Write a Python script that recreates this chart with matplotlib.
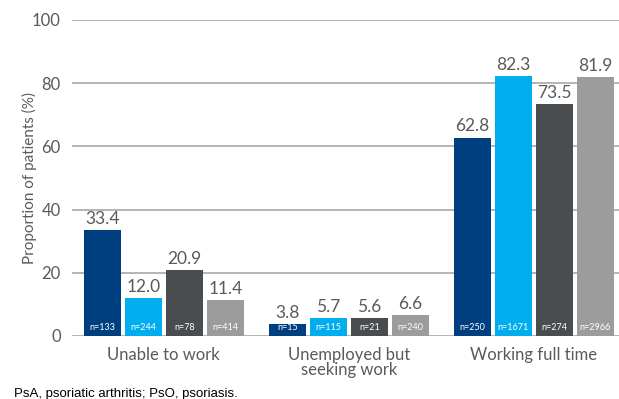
import numpy as np
import matplotlib.pyplot as plt

categories = ["Unable to work", "Unemployed but\nseeking work", "Working full time"]
values = [
    [33.4, 3.8, 62.8],
    [12.0, 5.7, 82.3],
    [20.9, 5.6, 73.5],
    [11.4, 6.6, 81.9],
]
counts = [
    ["n=133", "n=15", "n=250"],
    ["n=244", "n=115", "n=1671"],
    ["n=78", "n=21", "n=274"],
    ["n=414", "n=240", "n=2966"],
]
colors = ["#003f7f", "#00aeef", "#4a4d4f", "#9c9c9c"]
yticks = [0, 20, 40, 60, 80, 100]

plt.rcParams["font.family"] = ["Lato", "DejaVu Sans"]
txt = "#5a5a5a"

fig = plt.figure(figsize=(6.19, 3.99), dpi=100)
ax = fig.add_axes([0.116, 0.158, 0.884, 0.792])

x = np.arange(len(categories))
pitch, width = 0.2216, 0.2
for i, (vals, ns, c) in enumerate(zip(values, counts, colors)):
    xs = x + (i - 1.5) * pitch
    ax.bar(xs, vals, width, color=c, zorder=2)
    for xi, v, n in zip(xs, vals, ns):
        ax.text(xi, v + 1.0, f"{v:.1f}", ha="center", va="bottom",
                fontsize=12.5, color=txt)
        ax.text(xi, 1.2, n, ha="center", va="bottom", fontsize=6.5,
                color="white", zorder=3)

ax.set_xlim(-0.497, 2.46)
ax.set_ylim(0, 100)
ax.set_yticks(yticks)
ax.set_xticks(x)
ax.set_xticklabels(categories, fontsize=12, color=txt, linespacing=0.95)
ax.tick_params(axis="y", labelsize=12, labelcolor=txt, length=0, pad=8)
ax.tick_params(axis="x", length=0, pad=8)
ax.grid(axis="y", color="#a8a8a8", linewidth=1.2, zorder=0)
for s in ax.spines.values():
    s.set_visible(False)
ax.set_ylabel("Proportion of patients (%)", fontsize=11, color=txt, labelpad=-4)

fig.text(0.023, 0.004, "PsA, psoriatic arthritis; PsO, psoriasis.",
         fontsize=9.5, family="Liberation Sans", color="black")

fig.savefig("out.png", dpi=100)
